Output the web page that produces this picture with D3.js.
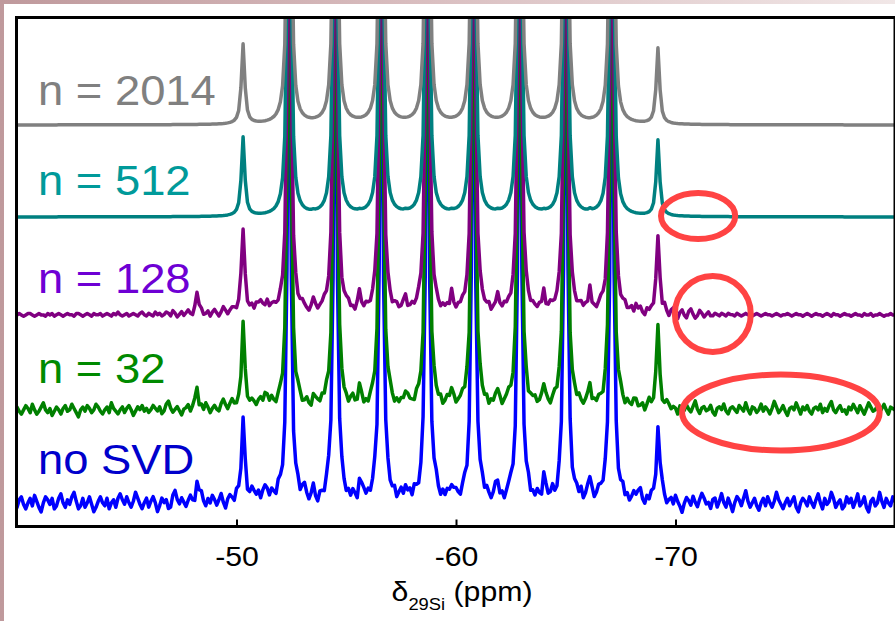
<!DOCTYPE html>
<html>
<head>
<meta charset="utf-8">
<script src="https://cdn.jsdelivr.net/npm/d3@7"></script>
<style>
  html, body { margin: 0; padding: 0; background: #fff; }
  svg { display: block; font-family: "Liberation Sans", Arial, Helvetica, sans-serif; }
</style>
</head>
<body>
<svg id="chart" width="895" height="621"></svg>
<script>
// 29Si NMR spectra (stacked) after SVD denoising with n retained components.

// ---- data -------------------------------------------------------------
const labels  = ["n = 2014", "n = 512", "n = 128", "n = 32", "no SVD"];
// vertical stacking offset of each trace (intensity units)
const offsets = [402, 310, 212, 117, 24];

// main resonances (ppm) and their half widths (ppm)
const mainPpm   = [-50.3, -52.4, -54.5, -56.6, -58.7, -60.8, -62.9, -65.0, -67.1, -69.2];
const mainWidth = [0.09, 0.078, 0.078, 0.078, 0.078, 0.078, 0.078, 0.078, 0.078, 0.09];
const mainGray   = [80, 600, 600, 600, 600, 600, 600, 600, 600, 76];
const mainTeal   = [79, 600, 600, 600, 600, 600, 600, 600, 600, 76];
const mainPurple = [84, 600, 600, 600, 600, 600, 600, 600, 600, 78];
const mainGreen  = [84, 600, 600, 600, 600, 600, 600, 600, 600, 80];
const mainBlue   = [84, 600, 600, 600, 600, 600, 600, 600, 600, 78];

// weak resonances (ppm), half widths (ppm) and heights per trace
const minorPpm   = [-48.2, -49.4, -51.0, -51.4, -53.5, -55.6, -57.7, -59.8, -61.9, -64.0, -66.1, -68.2];
const minorWidth = [0.07, 0.15, 0.15, 0.15, 0.07, 0.07, 0.07, 0.07, 0.07, 0.07, 0.07, 0.1];
const minorGray   = [0, 0, 0, 0, 0, 0, 0, 0, 0, 0, 0, 0];
const minorTeal   = [0, 0, 0, 0, 1, 1, 1, 1, 1, 1, 2, 0];
const minorPurple = [22, 4, 8, 10, 8, 16, 12, 15, 13, 18, 20, 6];
const minorGreen  = [22, 5, 7, 9, 9, 18, 14, 16, 15, 20, 20, 6];
const minorBlue   = [24, 5, 8, 9, 8, 20, 15, 18, 15, 22, 22, 6];

// residual noise, one value per 0.1 ppm from -40.0 to -80.0 ppm,
// in steps of noiseStep intensity units
const noiseStep = { purple: 1.3, green: 1.4, blue: 1.5 };
const noisePurple = [
  0, 1, 0, -1, 0, 1, 1, 0, -1, 0, 1, 0, 0, -1, 1, 0, 1, -1, 0, 1,
  0, -1, 0, 1, 0, 0, -1, 1, 1, 0, -1, 0, 1, 0, -1, 1, 0, 0, 1, -1,
  0, 1, 0, -1, 1, 0, 2, 0, -1, 0, 1, -1, 0, 1, 0, -1, 1, 2, 0, -1,
  1, 0, -1, 2, 0, 1, -1, 0, 2, 1, -1, 3, 1, -2, 0, 2, -1, 1, 3, 0,
  -2, 1, 0, 2, 3, -1, 0, 2, -2, 1, 3, 0, -3, -1, 2, 0, -2, 1, 3, 2,
  -1, 0, 2, 0, 1, -2, 0, 3, -1, 2, 0, 3, 1, -2, 0, -3, 1, 2, 0, -1,
  2, 0, 1, 0, 0, 0, -1, 2, -2, 0, 3, 1, -1, -3, 0, 2, 1, -2, 0, 1,
  3, 0, -1, 1, 0, 0, 0, 1, -2, 0, 2, 3, -1, 0, -3, 1, 2, 0, -1, 2,
  0, -2, 1, 3, 0, 0, 0, 1, -1, 2, 0, -3, 1, 2, -1, 0, 3, 1, -2, 0,
  2, -1, 0, 3, 1, 0, 0, 0, -2, 1, 0, 2, -1, -3, 1, 0, 2, -1, 3, 0,
  -2, 1, 0, 2, -1, 0, 0, 0, 1, -2, 0, 3, 1, -1, 0, 2, -3, 0, 1, 2,
  0, -1, 2, 0, 1, -2, 0, 0, 0, 2, -1, 1, 3, 0, -2, 1, 0, -1, 2, 0,
  1, -2, 0, 3, 1, -1, 0, 2, 0, 1, 0, 0, -1, 2, 0, -2, 1, 3, 0, 2,
  0, 2, -1, 0, -2, 1, 3, 0, -3, 1, 0, 0, -1, 2, 0, -2, 1, 3, -1, 0,
  2, -3, 1, 0, 3, -1, -3, 2, 0, 1, -2, 0, 0, 1, -2, 4, 0, -3, 2, 4,
  -2, -4, 1, 3, -1, -3, 2, 4, 0, -3, -1, 3, 1, -2, 0, 2, -1, -1, 1, 0,
  -1, 1, 0, -1, 1, 0, 0, -1, 1, 0, -1, 0, 1, 0, 0, -1, 0, 1, 0, -1,
  0, 1, 0, 0, -1, 0, 1, 0, -1, 0, 0, 1, 0, -1, 0, 1, 0, 0, -1, 0,
  1, 0, -1, 0, 1, 0, 0, -1, 0, 1, 0, -1, 1, 0, 0, -1, 0, 1, 0, 0,
  -1, 0, 1, 0, 0, -1, 1, 0, 0, 1, -1, 0, 0, 1, 0, -1, 0, 0, 1, 0,
  0
];
const noiseGreen = [
  2, -1, -3, 0, 3, 1, -2, 4, 0, -3, -1, 2, 5, 0, -2, 1, -4, -1, 2, 0,
  -3, 1, 3, -1, 0, 4, 1, -2, -5, 0, 2, -1, 3, 1, -2, 0, 4, 2, -1, -3,
  0, 2, -2, 5, 1, -1, -3, 0, 2, -2, 1, 3, 0, -4, -1, 2, 0, 3, -1, 1,
  -2, 0, 3, 1, -1, 2, -3, -1, 4, 6, 1, -2, 0, 2, -1, -4, 0, 1, 3, -2,
  1, 3, 0, -2, 2, -1, 4, 1, -3, 0, 2, -1, -3, 1, 3, 0, -2, 2, 5, 1,
  -1, 0, -4, 2, 1, -2, 0, 3, 1, -3, -1, 2, 0, 4, 1, -2, 3, 0, -3, 1,
  2, -2, 1, 3, 0, -3, 1, -1, 4, 2, -2, 0, 3, -1, -4, 0, 2, 1, -1, 3,
  0, 4, -1, -3, 2, 0, -2, 3, 1, -1, 0, -3, 2, 5, 0, -2, 1, 3, -2, 0,
  -3, 1, 2, -1, 0, 3, -2, 1, -1, 2, 4, 0, -3, 1, -1, 2, 0, -2, 3, 1,
  0, -2, 3, 1, -1, -3, 0, 2, 1, -2, 3, 0, -1, 2, -3, 0, 4, 1, -1, 2,
  -2, 0, 1, 3, -1, 2, -3, 0, 2, 1, -2, 4, 0, -1, 2, -3, 1, 0, 3, -1,
  1, -3, 0, 2, 4, 0, -2, 1, -1, 3, 0, -2, 2, -4, 0, 1, 3, -1, 0, 2,
  -1, 2, 0, -3, 1, 3, -1, 2, -2, 0, 4, 1, -3, 0, 2, -1, 3, 0, -2, 1,
  3, 0, -2, 1, -1, 2, 0, -4, 1, 3, -1, 0, 2, -2, 1, 4, 0, -3, 2, 0,
  -1, 3, 1, -2, 0, 2, -3, 1, 5, 0, -2, 1, 3, -1, -3, 0, 4, 2, -1, 1,
  0, -4, 2, 1, -1, 3, 0, -2, 2, 6, 0, -3, 1, 2, -1, 0, 3, -2, -4, 1,
  2, 0, 4, -1, -3, 1, 2, 0, -2, 3, 1, -1, 5, 0, -3, 2, 1, -2, 0, 4,
  -1, 2, 0, -3, 1, 6, 2, -2, 0, 3, -1, -4, 1, 2, 0, 5, 1, -3, 2, 0,
  3, -1, -3, 1, 2, 0, 4, -2, 1, -1, 3, 6, 0, -2, 1, 3, -1, 0, -3, 2,
  0, 4, 1, -2, 3, 0, -3, 1, 5, 2, -1, 0, 3, -2, 1, 4, 0, -3, 2, 1,
  0
];
const noiseBlue = [
  -3, 2, 4, -1, -4, 0, 3, -2, 5, 1, -3, -6, 0, 4, 2, -1, 3, -4, -2, 3,
  6, 0, -3, 2, -1, 4, 7, 1, -4, -2, 3, -3, 0, 4, -1, -6, -3, 1, 4, 0,
  -2, 3, -4, 0, 2, -3, 3, 6, 2, -1, 4, 0, -3, 1, 7, 3, -1, -4, 0, 3,
  -3, 1, 4, 0, -6, -2, 3, 0, 2, -4, -3, 5, 8, 2, -1, 3, 0, -3, 1, 4,
  0, -4, -2, 3, 6, 0, -3, 2, -1, 4, 1, -3, 0, 3, -4, -7, 0, 3, 1, -2,
  4, 1, -3, 0, 3, -2, 1, 6, 3, -1, 0, -4, 2, 4, 0, -3, 3, 1, -2, 5,
  3, -1, 0, 4, 1, -3, -6, 0, 3, -2, 4, 7, 1, -3, 0, 3, -2, -5, 1, 0,
  -3, 3, 5, 1, -2, 0, -4, 2, 4, 0, -3, 1, -2, 3, 0, -6, -2, 4, 3, -1,
  1, -3, 0, 4, -2, 3, 0, -5, 1, 3, -1, 0, 3, -3, 1, 4, -2, -3, 0, 3,
  -2, 4, 1, -3, 0, 3, -1, 2, -4, 0, 3, 6, 0, -3, 2, -1, 3, 0, -5, 1,
  3, 0, -3, 2, 4, -2, 0, 3, -3, -6, 0, 2, 4, -1, 3, 0, -3, 1, 6, 0,
  -2, 1, -4, 0, 3, 4, -1, -3, 2, 0, 3, -2, 1, 4, -3, 0, -2, 3, 0, -4,
  1, 3, -1, 0, 4, -3, -5, 1, 0, 3, -2, 6, 2, -3, 0, 2, -1, 4, -3, 0,
  3, -2, 1, -3, 0, 4, 2, -1, 3, 0, -4, -1, 3, 1, -3, 0, 4, -2, 1, -3,
  0, 3, -1, 4, 7, 0, -3, 2, -1, 3, 0, -5, -2, 3, 6, 1, -3, 0, 2, -2,
  4, 0, -3, -7, -1, 3, 1, -2, 4, 0, -3, 2, 6, 3, -1, 0, -4, 2, 3, -3,
  1, 6, 0, -3, 3, -1, -6, 0, 4, 2, -2, 3, 8, 1, -3, 0, 3, -2, -5, 0,
  3, -2, 4, 0, -3, 1, 7, 2, -1, -4, 0, 3, -2, 1, 4, -3, -6, 0, 3, 1,
  -2, 4, 0, -3, 2, 6, 0, -4, 3, -1, 1, 7, 3, -3, 0, 2, -4, -2, 4, 0,
  3, -3, 1, 6, -2, 0, 4, -3, -6, 1, 3, -2, 0, 7, 1, -3, 3, 0, -2, 4,
  1
];

const xTicks = [-50, -60, -70];

// highlighted regions: centre (ppm, intensity) and radii (ppm, intensity)
const circlePpm    = [-71.03, -71.70, -74.80];
const circleLevel  = [311, 213, 114.5];
const circleRadPpm = [1.69, 1.73, 4.50];
const circleRadInt = [23, 38, 38];

// ---- layout -------------------------------------------------------------
const W = 895, H = 621;
const plot = { left: 17, right: 895, top: 17, bottom: 527 };
const textStretch = 1.08;

const svg = d3.select("#chart");

const x = d3.scaleLinear().domain([-40, -80]).range([plot.left, plot.right]);
const y = d3.scaleLinear().domain([0, 510]).range([plot.bottom, plot.top]);

// page background with a thin tinted margin
const defs = svg.append("defs");
const bg = defs.append("linearGradient").attr("id", "bgGrad")
  .attr("x1", "0%").attr("x2", "100%").attr("y1", "0%").attr("y2", "0%");
bg.append("stop").attr("offset", "0%").attr("stop-color", "#bf999c");
bg.append("stop").attr("offset", "45%").attr("stop-color", "#d8bcbe");
bg.append("stop").attr("offset", "100%").attr("stop-color", "#f1e7e7");
svg.append("rect").attr("width", W).attr("height", H).attr("fill", "url(#bgGrad)");
svg.append("rect").attr("x", 4).attr("y", 4).attr("width", W - 4).attr("height", H - 4).attr("fill", "#ffffff");

defs.append("clipPath").attr("id", "plotClip")
  .append("rect")
  .attr("x", plot.left).attr("y", plot.top)
  .attr("width", plot.right - plot.left).attr("height", plot.bottom - plot.top);

// ---- traces ---------------------------------------------------------------
const series = [
  { label: labels[0], offset: offsets[0], main: mainGray,   minor: minorGray,   noise: null,        step: 0,                line: "#808080", text: "#808080", rise: 20 },
  { label: labels[1], offset: offsets[1], main: mainTeal,   minor: minorTeal,   noise: null,        step: 0,                line: "#008080", text: "#009a9a", rise: 22 },
  { label: labels[2], offset: offsets[2], main: mainPurple, minor: minorPurple, noise: noisePurple, step: noiseStep.purple, line: "#800080", text: "#6e00d4", rise: 22 },
  { label: labels[3], offset: offsets[3], main: mainGreen,  minor: minorGreen,  noise: noiseGreen,  step: noiseStep.green,  line: "#008000", text: "#008a00", rise: 27 },
  { label: labels[4], offset: offsets[4], main: mainBlue,   minor: minorBlue,   noise: noiseBlue,   step: noiseStep.blue,   line: "#0000ff", text: "#0000cc", rise: 29 }
];

// chemical-shift sampling positions, 0.1 ppm apart
const shifts = d3.range(401).map(i => +(-40 - 0.1 * i).toFixed(1));
const lorentz = (p, c, g) => (g * g) / ((p - c) * (p - c) + g * g);

series.forEach(s => {
  s.points = shifts.map((p, i) => {
    let v = s.offset;
    mainPpm.forEach((c, k) => { v += s.main[k] * lorentz(p, c, mainWidth[k]); });
    minorPpm.forEach((c, k) => { v += s.minor[k] * lorentz(p, c, minorWidth[k]); });
    if (s.noise) v += (s.noise[i] ?? 0) * s.step;
    return [p, v];
  });
});

const line = d3.line().x(d => x(d[0])).y(d => y(d[1]));

const traces = svg.append("g").attr("clip-path", "url(#plotClip)");
// lowest trace first so the upper ones sit on top where the peaks overlap
series.slice().reverse().forEach(s => {
  traces.append("path")
    .datum(s.points)
    .attr("d", line)
    .attr("fill", "none")
    .attr("stroke", s.line)
    .attr("stroke-width", 3.5)
    .attr("stroke-linejoin", "round")
    .attr("stroke-linecap", "round");
});

// ---- trace labels -------------------------------------------------------
series.forEach(s => {
  svg.append("text")
    .attr("transform", `translate(38,${y(s.offset) - s.rise}) scale(${textStretch},1)`)
    .attr("font-size", 42)
    .attr("fill", s.text)
    .text(s.label);
});

// ---- frame and axis -----------------------------------------------------
svg.append("rect")
  .attr("x", plot.left - 0.5).attr("y", plot.top + 0.5)
  .attr("width", plot.right - plot.left + 0.5).attr("height", plot.bottom - plot.top - 1)
  .attr("fill", "none").attr("stroke", "#000").attr("stroke-width", 3);

const axis = d3.axisBottom(x)
  .tickValues(xTicks)
  .tickFormat(d => String(d))
  .tickSizeInner(-7)
  .tickSizeOuter(0)
  .tickPadding(20);

const gx = svg.append("g")
  .attr("transform", `translate(0,${plot.bottom - 0.5})`)
  .call(axis);
gx.select(".domain").remove();
gx.selectAll(".tick line").attr("stroke", "#000").attr("stroke-width", 2);
gx.selectAll(".tick text")
  .attr("font-size", 28)
  .attr("font-family", "'Liberation Sans', Arial, sans-serif")
  .attr("fill", "#000")
  .attr("transform", `scale(${textStretch},1)`);

const title = svg.append("text")
  .attr("transform", `translate(462,601) scale(${textStretch},1)`)
  .attr("text-anchor", "middle")
  .attr("font-size", 28)
  .attr("fill", "#000");
title.append("tspan").text("δ");
title.append("tspan").attr("font-size", 17).attr("dy", 9).text("29Si");
title.append("tspan").attr("dy", -9).text(" (ppm)");

// ---- highlighted regions --------------------------------------------------
circlePpm.forEach((c, k) => {
  svg.append("ellipse")
    .attr("cx", x(c))
    .attr("cy", y(circleLevel[k]))
    .attr("rx", Math.abs(x(c - circleRadPpm[k]) - x(c)))
    .attr("ry", Math.abs(y(circleLevel[k] + circleRadInt[k]) - y(circleLevel[k])))
    .attr("fill", "none")
    .attr("stroke", "#ff4343")
    .attr("stroke-width", 6);
});
</script>
</body>
</html>
